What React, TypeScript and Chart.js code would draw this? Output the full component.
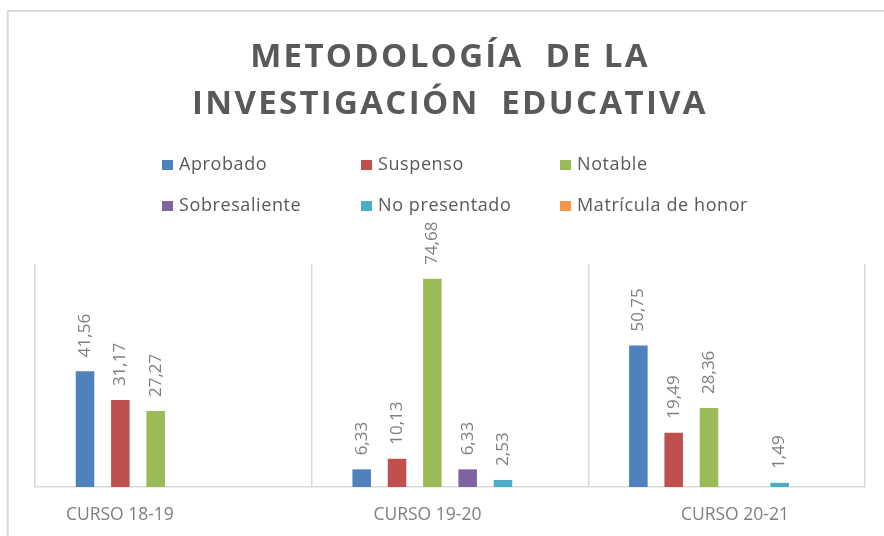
import React, { useEffect, useRef } from 'react';
import { Chart, registerables } from 'chart.js';

Chart.register(...registerables);

const categories = ['CURSO 18-19', 'CURSO 19-20', 'CURSO 20-21'];
const seriesNames = ['Aprobado', 'Suspenso', 'Notable', 'Sobresaliente', 'No presentado', 'Matrícula de honor'];
const aprobado = [41.56, 6.33, 50.75];
const suspenso = [31.17, 10.13, 19.49];
const notable = [27.27, 74.68, 28.36];
const sobresaliente = [null, 6.33, null];
const noPresentado = [null, 2.53, 1.49];
const matricula = [null, null, null];
const seriesColors = ['#4f81bd', '#c0504d', '#9bbb59', '#8064a2', '#4bacc6', '#f79646'];
const titleLines = ['METODOLOGÍA  DE LA', 'INVESTIGACIÓN  EDUCATIVA'];
const yMax = 80;
// positions of the category captions along the bottom (caption axis range)
const captionMin = -0.276;
const captionMax = 2.423;

const FONT = '"Open Sans", "Noto Sans", sans-serif';

const decorPlugin = {
  id: 'decor',
  beforeDraw(chart: any) {
    const ctx = chart.ctx;
    ctx.save();
    ctx.fillStyle = '#ffffff';
    ctx.fillRect(0, 0, chart.width, chart.height);
    ctx.strokeStyle = '#d9d9d9';
    ctx.lineWidth = 2;
    ctx.beginPath();
    ctx.moveTo(7.7, chart.height + 2);
    ctx.lineTo(7.7, 11);
    ctx.lineTo(chart.width + 2, 11);
    ctx.stroke();
    ctx.restore();
  },
  afterDraw(chart: any) {
    const ctx = chart.ctx;
    // Title
    ctx.save();
    ctx.font = `bold 33px ${FONT}`;
    (ctx as any).letterSpacing = '2.3px';
    ctx.fillStyle = '#595959';
    ctx.textAlign = 'center';
    ctx.textBaseline = 'alphabetic';
    ctx.fillText(titleLines[0], 450, 67);
    ctx.fillText(titleLines[1], 450, 114);
    ctx.restore();

    // Legend (grid of 3 columns)
    ctx.save();
    ctx.font = `18px ${FONT}`;
    (ctx as any).letterSpacing = '0.6px';
    ctx.textBaseline = 'middle';
    ctx.textAlign = 'left';
    chart.data.datasets.forEach((ds: any, i: number) => {
      const col = i % 3;
      const row = Math.floor(i / 3);
      const bx = 162 + col * 199;
      const cy = 165 + row * 41;
      ctx.fillStyle = ds.backgroundColor;
      ctx.fillRect(bx, cy - 5, 11, 10);
      ctx.fillStyle = '#595959';
      ctx.fillText(ds.label, bx + 17, cy);
    });
    ctx.restore();

    // Data labels
    ctx.save();
    ctx.font = `17px ${FONT}`;
    ctx.fillStyle = '#7f7f7f';
    ctx.textAlign = 'left';
    ctx.textBaseline = 'middle';
    chart.data.datasets.forEach((ds: any, i: number) => {
      const meta = chart.getDatasetMeta(i);
      meta.data.forEach((el: any, j: number) => {
        const v = ds.data[j];
        if (v === null || v === undefined) return;
        const txt = v.toFixed(2).replace('.', ',');
        ctx.save();
        ctx.translate(el.x, el.y - 14);
        ctx.rotate(-Math.PI / 2);
        ctx.fillText(txt, 0, 0);
        ctx.restore();
      });
    });
    ctx.restore();
  },
};

export default function App() {
  const canvasRef = useRef<HTMLCanvasElement | null>(null);

  useEffect(() => {
    if (!canvasRef.current) return;
    const seriesData = [aprobado, suspenso, notable, sobresaliente, noPresentado, matricula];
    const chart = new Chart(canvasRef.current, {
      type: 'bar',
      data: {
        labels: categories,
        datasets: seriesNames.map((name, i) => ({
          label: name,
          data: seriesData[i] as any,
          backgroundColor: seriesColors[i],
          borderWidth: 0,
          categoryPercentage: 0.766,
          barPercentage: 0.525,
        })),
      },
      options: {
        responsive: false,
        animation: false,
        devicePixelRatio: 1,
        layout: { padding: { left: 35, right: 19, top: 264, bottom: 0 } },
        plugins: {
          legend: { display: false },
          title: { display: false },
          tooltip: { enabled: false },
        },
        scales: {
          x: {
            weight: 0,
            grid: { display: true, offset: true, color: '#d9d9d9', lineWidth: 1.5, drawTicks: false },
            border: { display: true, color: '#d9d9d9', width: 1.5 },
            ticks: { display: false },
            afterFit: (scale: any) => { scale.height = 0; },
          },
          xCaption: {
            type: 'linear',
            position: 'bottom',
            weight: 1,
            offset: false,
            bounds: 'data',
            min: captionMin,
            max: captionMax,
            grid: { display: false, drawTicks: false, offset: false },
            border: { display: false },
            afterBuildTicks: (scale: any) => {
              scale.ticks = categories.map((_, i) => ({ value: i }));
            },
            ticks: {
              autoSkip: false,
              color: '#7f7f7f',
              font: { family: FONT, size: 17.5 },
              padding: 18,
              callback: (v: any) => categories[Math.round(Number(v))] ?? '',
            },
            afterFit: (scale: any) => { scale.height = 49; },
          },
          y: {
            display: false,
            min: 0,
            max: yMax,
          },
        },
      } as any,
      plugins: [decorPlugin],
    });
    return () => chart.destroy();
  }, []);

  return (
    <div style={{ position: 'fixed', left: 0, top: 0, width: 884, height: 536, background: '#fff' }}>
      <canvas ref={canvasRef} width={884} height={536} style={{ display: 'block', width: 884, height: 536 }} />
    </div>
  );
}
